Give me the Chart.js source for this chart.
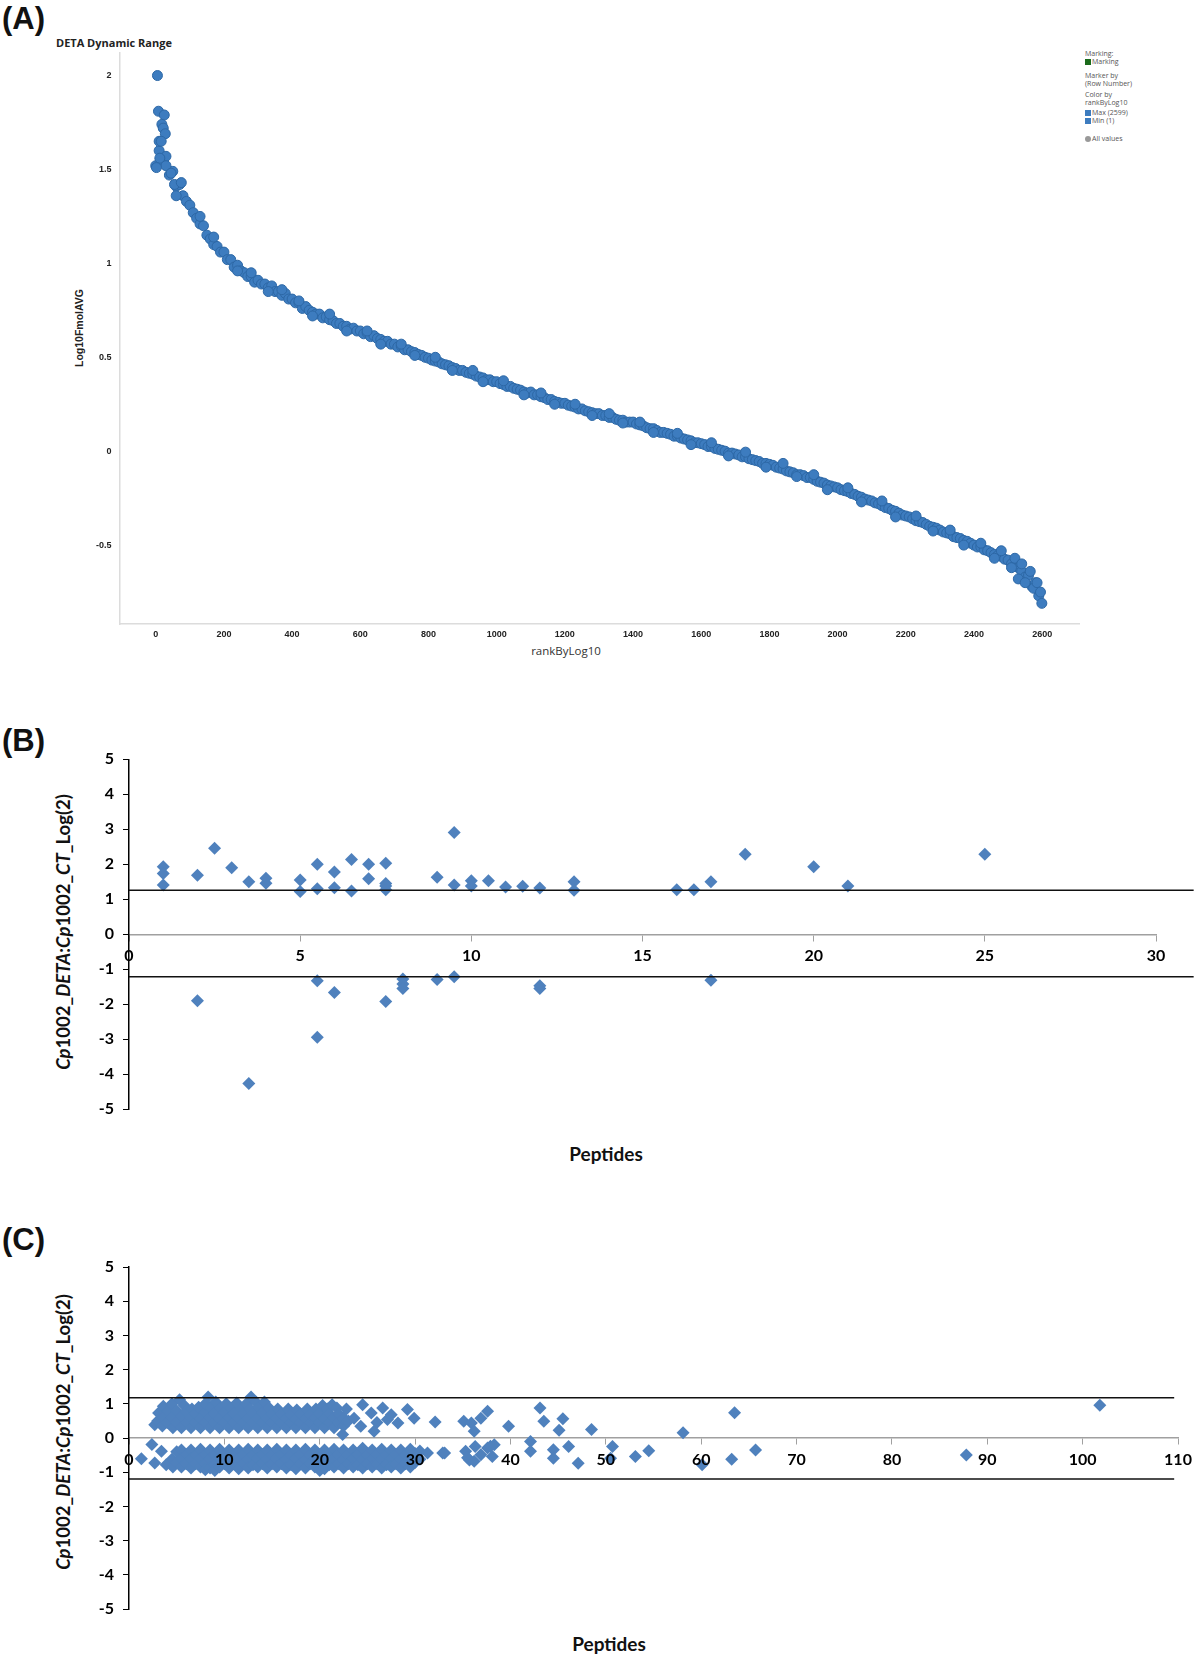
<!DOCTYPE html>
<html>
<head>
<meta charset="utf-8">
<script src="https://cdn.jsdelivr.net/npm/chart.js@4.4.1/dist/chart.umd.min.js"></script>
<style>
  body { margin: 0; background: #fff; width: 1200px; height: 1659px; position: relative; overflow: hidden; }
  canvas { position: absolute; left: 0; }
  .t { position: absolute; white-space: nowrap; line-height: 1; }
  .c { transform: translate(-50%, -50%); }
  .r { transform: translate(-50%, -50%) rotate(-90deg); }
  .panel { font: bold 31px "Liberation Sans", Arial, sans-serif; color: #111; left: 2px; }
  .leg { font: 7px "Open Sans", sans-serif; color: #555; left: 1085px; }
  .sq { display: inline-block; width: 6px; height: 6px; margin-right: 1px; vertical-align: -1px; }
  .ytitle { font: bold 18.5px Lato, sans-serif; color: #111; }
  .ytitle i { font-style: italic; }
  .xtitle { font: bold 19px Lato, sans-serif; color: #111; }
</style>
</head>
<body>

<div class="t panel" style="top:1px">(A)</div>
<div class="t panel" style="top:723px">(B)</div>
<div class="t panel" style="top:1222px">(C)</div>

<!-- panel A texts -->
<div class="t" style="left:56px;top:35px;font:bold 11px 'Open Sans',sans-serif;color:#222">DETA Dynamic Range</div>
<div class="t r" style="left:79px;top:328px;font:bold 10.5px 'Liberation Sans',Arial,sans-serif;color:#222">Log10FmolAVG</div>
<div class="t c" style="left:566px;top:650px;font:11.5px 'Open Sans',sans-serif;color:#333">rankByLog10</div>

<div class="t leg" style="top:49px">Marking:</div>
<div class="t leg" style="top:57px"><span class="sq" style="background:#1b6b1b"></span>Marking</div>
<div class="t leg" style="top:71px">Marker by</div>
<div class="t leg" style="top:79px">(Row Number)</div>
<div class="t leg" style="top:90px">Color by</div>
<div class="t leg" style="top:98px">rankByLog10</div>
<div class="t leg" style="top:108px"><span class="sq" style="background:#3d7cbf"></span>Max (2599)</div>
<div class="t leg" style="top:116px"><span class="sq" style="background:#3d7cbf"></span>Min (1)</div>
<div class="t leg" style="top:134px"><span class="sq" style="background:#999;border-radius:50%"></span>All values</div>

<!-- panel B / C texts -->
<div class="t r ytitle" style="left:63px;top:932px"><i>Cp</i>1002_<i>DETA</i>:<i>Cp</i>1002_<i>CT</i>_Log(2)</div>
<div class="t c xtitle" style="left:606px;top:1153px">Peptides</div>
<div class="t r ytitle" style="left:63px;top:1432px"><i>Cp</i>1002_<i>DETA</i>:<i>Cp</i>1002_<i>CT</i>_Log(2)</div>
<div class="t c xtitle" style="left:609px;top:1643px">Peptides</div>

<canvas id="chartA" width="1200" height="700" style="top:0"></canvas>
<canvas id="chartB" width="1200" height="430" style="top:700px"></canvas>
<canvas id="chartC" width="1200" height="459" style="top:1200px"></canvas>

<script>
// ---------- DATA ----------

// Panel A: Log10FmolAVG read every 10 ranks (rank 0..2590)
const rankStep = 10;
const log10Fmol = [
  1.52, 1.60, 1.54, 1.57, 1.47, 1.49, 1.41, 1.42, 1.36, 1.33,
  1.31, 1.27, 1.24, 1.21, 1.20, 1.15, 1.13, 1.10, 1.09, 1.06,
  1.06, 1.02, 1.02, 0.98, 0.99, 0.96, 0.95, 0.93, 0.93, 0.90,
  0.91, 0.89, 0.89, 0.87, 0.88, 0.85, 0.85, 0.83, 0.84, 0.81,
  0.81, 0.79, 0.79, 0.76, 0.77, 0.75, 0.74, 0.73, 0.73, 0.71,
  0.715, 0.70, 0.695, 0.68, 0.68, 0.665, 0.665, 0.65, 0.655, 0.64,
  0.64, 0.625, 0.63, 0.61, 0.615, 0.60, 0.595, 0.585, 0.585, 0.57,
  0.57, 0.555, 0.56, 0.54, 0.54, 0.53, 0.525, 0.515, 0.51, 0.50,
  0.495, 0.485, 0.48, 0.475, 0.465, 0.46, 0.455, 0.445, 0.44, 0.43,
  0.43, 0.42, 0.415, 0.41, 0.40, 0.395, 0.39, 0.38, 0.38, 0.37,
  0.37, 0.36, 0.355, 0.345, 0.345, 0.335, 0.33, 0.325, 0.315, 0.31,
  0.315, 0.30, 0.30, 0.29, 0.285, 0.275, 0.275, 0.265, 0.26, 0.255,
  0.255, 0.245, 0.24, 0.235, 0.225, 0.225, 0.215, 0.21, 0.205, 0.20,
  0.20, 0.19, 0.19, 0.18, 0.18, 0.17, 0.165, 0.165, 0.155, 0.155,
  0.155, 0.145, 0.14, 0.135, 0.125, 0.12, 0.12, 0.11, 0.10, 0.10,
  0.095, 0.09, 0.08, 0.08, 0.07, 0.065, 0.06, 0.055, 0.045, 0.045,
  0.04, 0.035, 0.025, 0.025, 0.015, 0.01, 0.005, 0.0, -0.01, -0.01,
  -0.015, -0.02, -0.03, -0.03, -0.04, -0.045, -0.05, -0.055, -0.065, -0.065,
  -0.07, -0.075, -0.085, -0.09, -0.095, -0.105, -0.11, -0.115, -0.125, -0.125,
  -0.13, -0.14, -0.14, -0.15, -0.16, -0.165, -0.17, -0.18, -0.185, -0.19,
  -0.195, -0.205, -0.21, -0.215, -0.225, -0.23, -0.24, -0.245, -0.255, -0.26,
  -0.265, -0.275, -0.28, -0.29, -0.30, -0.305, -0.315, -0.32, -0.33, -0.34,
  -0.345, -0.35, -0.36, -0.37, -0.375, -0.38, -0.39, -0.40, -0.405, -0.41,
  -0.42, -0.43, -0.435, -0.44, -0.455, -0.46, -0.465, -0.475, -0.48, -0.49,
  -0.50, -0.51, -0.51, -0.525, -0.53, -0.54, -0.55, -0.555, -0.56, -0.575,
  -0.58, -0.60, -0.61, -0.62, -0.64, -0.67, -0.66, -0.72, -0.70, -0.77
];
// single points off the main band: the head cloud, scattered points along the band, the tail [rank, value]
const log10Extra = [
  [5, 2.0], [8, 1.81], [25, 1.79], [18, 1.74], [22, 1.72], [28, 1.69], [10, 1.65],
  [16, 1.65], [12, 1.56], [30, 1.52], [2, 1.51], [45, 1.48], [55, 1.42], [60, 1.36], [75, 1.43],
  [130, 1.25], [170, 1.14], [240, 0.96], [280, 0.95], [330, 0.85], [370, 0.86], [420, 0.80],
  [460, 0.72], [510, 0.73], [560, 0.64], [620, 0.64], [660, 0.57], [720, 0.57], [760, 0.51],
  [820, 0.50], [870, 0.43], [930, 0.43], [960, 0.37], [1020, 0.375], [1080, 0.30], [1130, 0.31],
  [1170, 0.25], [1230, 0.25], [1280, 0.19], [1330, 0.20], [1370, 0.15], [1420, 0.155], [1460, 0.10],
  [1530, 0.095], [1570, 0.035], [1630, 0.045], [1680, -0.025], [1730, -0.005], [1790, -0.085],
  [1840, -0.065], [1880, -0.135], [1930, -0.125], [1970, -0.205], [2030, -0.195], [2070, -0.27],
  [2130, -0.265], [2170, -0.35], [2230, -0.345], [2280, -0.425], [2330, -0.42], [2370, -0.5],
  [2420, -0.49], [2460, -0.57], [2480, -0.53], [2510, -0.62], [2520, -0.57], [2530, -0.68],
  [2540, -0.60], [2550, -0.70], [2565, -0.64], [2575, -0.73], [2585, -0.70], [2595, -0.75], [2599, -0.81]
];
const rankTicks = [0, 200, 400, 600, 800, 1000, 1200, 1400, 1600, 1800, 2000, 2200, 2400, 2600];

// Panel B: [peptides, log2 ratio]
const bPoints = [
  [1, 1.93], [1, 1.74], [1, 1.41], [2, 1.69], [2, -1.9], [2.5, 2.46], [3, 1.9], [3.5, 1.5],
  [3.5, -4.26], [4, 1.6], [4, 1.46], [5, 1.55], [5, 1.22], [5.5, 2.0], [5.5, 1.3], [5.5, -1.33],
  [5.5, -2.94], [6, 1.78], [6, 1.33], [6, -1.66], [6.5, 2.14], [6.5, 1.24], [7, 2.0], [7, 1.59],
  [7.5, 2.03], [7.5, 1.45], [7.5, 1.38], [7.5, 1.27], [7.5, -1.92], [8, -1.28], [8, -1.42],
  [8, -1.55], [9, 1.63], [9, -1.29], [9.5, 2.91], [9.5, 1.41], [9.5, -1.21], [10, 1.53],
  [10, 1.38], [10.5, 1.53], [11, 1.35], [11.5, 1.37], [12, 1.32], [12, -1.47], [12, -1.55],
  [13, 1.5], [13, 1.26], [16, 1.27], [16.5, 1.27], [17, 1.5], [17, -1.31], [18, 2.29],
  [20, 1.93], [21, 1.38], [25, 2.29]
];
const bCutUp = 1.26;
const bCutDown = -1.21;

// Panel C: each row is [peptides, ratio, ratio, ...]
const cUpper = [
  [2.7, 0.39], [3.0, 0.5], [3.1, 0.73], [3.5, 0.35], [3.6, 0.93, 0.6], [4.0, 0.45], [4.1, 0.78],
  [4.5, 1.0, 0.6], [4.6, 0.3], [5.0, 0.45, 0.8], [5.3, 1.12], [5.5, 0.62, 0.3], [5.8, 0.95],
  [6.0, 0.45, 0.78], [6.5, 0.3, 0.6], [6.6, 0.85], [7.0, 0.45, 0.72], [7.3, 0.9], [7.5, 0.3, 0.58],
  [8.0, 0.45, 0.75, 1.0], [8.3, 1.2], [8.5, 0.3, 0.6], [8.6, 0.88], [9.0, 0.45, 0.72], [9.1, 1.05],
  [9.5, 0.3, 0.58], [9.6, 0.88], [10.0, 0.45, 0.75], [10.2, 1.0], [10.5, 0.3, 0.6], [10.7, 0.88],
  [11.0, 0.45, 0.72], [11.3, 1.02], [11.5, 0.3, 0.58], [11.8, 0.85], [12.0, 0.45, 0.72], [12.3, 1.0],
  [12.5, 0.3, 0.58], [12.7, 0.85], [12.8, 1.2], [13.0, 0.45, 0.72], [13.3, 1.05], [13.5, 0.3, 0.58],
  [13.6, 0.9], [14.0, 0.45, 0.75], [14.2, 1.05], [14.5, 0.3, 0.58], [14.7, 0.88], [15.0, 0.45, 0.7],
  [15.5, 0.3, 0.58], [15.6, 0.85], [16.0, 0.45, 0.7], [16.5, 0.3, 0.58], [16.7, 0.85], [17.0, 0.45, 0.68],
  [17.5, 0.3, 0.55], [17.6, 0.82], [18.0, 0.45, 0.7], [18.5, 0.3, 0.58], [18.7, 0.85], [19.0, 0.45, 0.68],
  [19.5, 0.3, 0.58], [19.6, 0.85], [20.0, 0.45, 0.72], [20.3, 0.95], [20.5, 0.3, 0.58], [20.8, 0.85],
  [21.0, 0.45, 0.72], [21.3, 0.97], [21.5, 0.3, 0.58], [21.8, 0.88], [22.0, 0.45, 0.7], [22.4, 0.1],
  [22.5, 0.35, 0.58], [22.8, 0.85], [23.0, 0.5], [23.6, 0.58], [24.3, 0.34], [24.5, 0.97], [25.4, 0.73],
  [25.7, 0.2], [26.0, 0.45], [26.6, 0.88], [27.1, 0.54], [27.5, 0.68], [28.2, 0.44], [29.2, 0.83],
  [29.9, 0.58], [32.1, 0.47], [35.1, 0.49], [35.9, 0.44], [36.2, 0.2], [36.9, 0.58], [37.6, 0.78],
  [39.8, 0.34], [43.1, 0.88], [43.5, 0.49], [45.1, 0.23], [45.5, 0.56], [48.5, 0.25], [58.1, 0.15],
  [63.5, 0.74], [101.8, 0.96]
];
const cLower = [
  [1.3, -0.61], [2.4, -0.19], [2.7, -0.73], [3.4, -0.39], [3.9, -0.78], [4.5, -0.62], [4.6, -0.85],
  [5.0, -0.4, -0.72], [5.5, -0.35, -0.6, -0.85], [6.0, -0.48, -0.75], [6.5, -0.35, -0.62, -0.88],
  [7.0, -0.5, -0.75], [7.5, -0.33, -0.6, -0.85], [8.0, -0.48, -0.75, -0.93], [8.5, -0.35, -0.62, -0.88],
  [9.0, -0.5, -0.78, -0.95], [9.5, -0.33, -0.6, -0.85], [10.0, -0.48, -0.75], [10.5, -0.35, -0.62, -0.88],
  [11.0, -0.5, -0.75], [11.5, -0.35, -0.6, -0.9], [12.0, -0.48, -0.75], [12.5, -0.33, -0.62, -0.88],
  [13.0, -0.5, -0.78], [13.5, -0.35, -0.6, -0.85], [14.0, -0.48, -0.75], [14.5, -0.35, -0.62, -0.88],
  [15.0, -0.5, -0.75], [15.5, -0.33, -0.6, -0.85], [16.0, -0.48, -0.75], [16.5, -0.35, -0.62, -0.88],
  [17.0, -0.5, -0.78], [17.5, -0.35, -0.6, -0.9], [18.0, -0.48, -0.75], [18.5, -0.33, -0.62, -0.88],
  [19.0, -0.5, -0.75], [19.5, -0.35, -0.6, -0.85], [20.0, -0.48, -0.75, -0.95], [20.5, -0.35, -0.62, -0.9],
  [21.0, -0.5, -0.78], [21.5, -0.33, -0.6, -0.85], [22.0, -0.48, -0.75], [22.5, -0.35, -0.62, -0.88],
  [23.0, -0.5, -0.75], [23.5, -0.35, -0.6, -0.85], [24.0, -0.48, -0.78], [24.5, -0.3, -0.62, -0.88],
  [25.0, -0.5, -0.75], [25.5, -0.35, -0.6, -0.85], [26.0, -0.48, -0.75], [26.5, -0.33, -0.62, -0.88],
  [27.0, -0.5, -0.78], [27.5, -0.35, -0.6, -0.85], [28.0, -0.48, -0.75], [28.5, -0.35, -0.62, -0.88],
  [29.0, -0.5, -0.75], [29.5, -0.33, -0.6, -0.85], [30.0, -0.45, -0.72], [30.5, -0.38, -0.62],
  [31.3, -0.44], [32.9, -0.44], [33.1, -0.44], [35.3, -0.39], [35.5, -0.58], [35.7, -0.64], [36.2, -0.68],
  [36.3, -0.25], [36.9, -0.49], [37.6, -0.29], [37.9, -0.24], [38.1, -0.54], [38.3, -0.2], [42.1, -0.1, -0.39],
  [44.5, -0.34, -0.59], [46.1, -0.25], [47.1, -0.74], [50.5, -0.59], [50.7, -0.25], [53.1, -0.54],
  [54.5, -0.37], [60.1, -0.78], [63.2, -0.62], [65.7, -0.35], [87.8, -0.5]
];
const cCutUp = 1.18;
const cCutDown = -1.2;

// ---------- HELPERS ----------
const toXY = rows => rows.flatMap(r => r.slice(1).map(y => ({ x: r[0], y: y })));
const quiet = { legend: { display: false }, tooltip: { enabled: false } };
const blue = '#4f81bd';

// ---------- CHART A ----------
const tickA = { family: 'Liberation Sans', size: 9, weight: 'bold' };
const aData = log10Fmol.map((v, i) => ({ x: i * rankStep, y: v }))
  .concat(log10Extra.map(p => ({ x: p[0], y: p[1] })));

new Chart(document.getElementById('chartA'), {
  type: 'scatter',
  data: {
    datasets: [{
      data: aData,
      backgroundColor: '#3d7cbf',
      borderColor: '#2d68a6',
      borderWidth: 1,
      pointRadius: 5
    }]
  },
  options: {
    responsive: false, animation: false, events: [],
    layout: { padding: { top: 53, right: 121, bottom: 0, left: 0 } },
    plugins: quiet,
    scales: {
      x: {
        type: 'linear', min: -106, max: 2708,
        afterFit: s => { s.height = 76; },
        afterBuildTicks: s => { s.ticks = rankTicks.map(v => ({ value: v })); },
        grid: { display: false, drawTicks: false },
        border: { color: '#dcdcdc', width: 1.5 },
        ticks: { autoSkip: false, maxRotation: 0, padding: 5, color: '#222', font: tickA, callback: v => v }
      },
      y: {
        min: -0.92, max: 2.12,
        afterFit: s => { s.width = 119.6; },
        grid: { display: false, drawTicks: false },
        border: { color: '#dcdcdc', width: 1.5 },
        ticks: { stepSize: 0.5, includeBounds: false, padding: 8, color: '#222', font: tickA, callback: v => v }
      }
    }
  }
});

// ---------- CHARTS B / C ----------
const tickBC = { family: 'Lato', size: 16, weight: 'bold' };

function ratioChart(id, points, xMax, xStep, cutUp, cutDown, lineEnd, pad) {
  const cutLine = y => ({
    data: [{ x: 0, y: y }, { x: lineEnd, y: y }],
    showLine: true, pointRadius: 0, borderColor: '#111', borderWidth: 1.5, clip: false
  });
  new Chart(document.getElementById(id), {
    type: 'scatter',
    data: {
      datasets: [
        cutLine(cutUp),
        cutLine(cutDown),
        { data: points, pointStyle: 'rectRot', pointRadius: 6.5, backgroundColor: blue, borderColor: blue, borderWidth: 0 }
      ]
    },
    options: {
      responsive: false, animation: false, events: [],
      layout: { padding: pad },
      plugins: quiet,
      scales: {
        x: {
          type: 'linear', min: 0, max: xMax, position: { y: 0 },
          grid: { drawOnChartArea: false, color: '#a0a0a0', tickLength: 6 },
          border: { color: '#a0a0a0', width: 1.5 },
          ticks: { z: 1, stepSize: xStep, autoSkip: false, maxRotation: 0, padding: 6, color: '#000', font: tickBC }
        },
        y: {
          min: -5, max: 5,
          afterFit: s => { s.width = 129; },
          grid: { drawOnChartArea: false, color: '#000', tickLength: 6 },
          border: { color: '#000', width: 1.5 },
          ticks: { stepSize: 1, padding: 9, color: '#000', font: tickBC }
        }
      }
    }
  });
}

ratioChart('chartB', bPoints.map(p => ({ x: p[0], y: p[1] })), 30, 5, bCutUp, bCutDown, 31.1,
  { top: 59.3, right: 44, bottom: 20.7, left: 0 });
ratioChart('chartC', toXY(cUpper).concat(toXY(cLower)), 110, 10, cCutUp, cCutDown, 109.6,
  { top: 67, right: 22, bottom: 50, left: 0 });
</script>
</body>
</html>
